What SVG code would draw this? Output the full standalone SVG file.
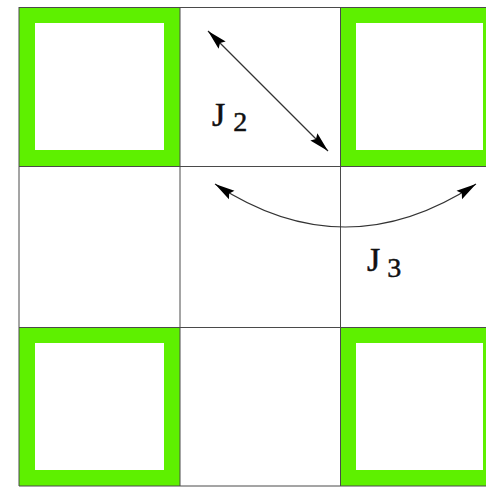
<svg xmlns="http://www.w3.org/2000/svg" width="486" height="487" viewBox="0 0 486 487">
<style>
.sq{fill:none;stroke:#5ef000;stroke-width:16}
.grid{stroke:#4a4a4a;stroke-width:1;fill:none}
.conn{stroke:#333;stroke-width:1.2;fill:none}
.lbl{font-family:"Liberation Serif","Times New Roman",serif;fill:#111;stroke:#111;stroke-width:0.5}
</style>
<defs>
<marker id="ah" markerUnits="userSpaceOnUse" markerWidth="24" markerHeight="14" refX="20" refY="6" orient="auto-start-reverse" viewBox="0 0 24 12">
<path d="M0,1 L20,6 L0,11 L3,6 Z" fill="#000"/>
</marker>
</defs>
<rect width="486" height="487" fill="#fff"/>
<g id="cell-top-left"><rect class="sq" x="27" y="15" width="145" height="143"/></g>
<g id="cell-top-right"><rect class="sq" x="348" y="15" width="143" height="143"/></g>
<g id="cell-bottom-left"><rect class="sq" x="27" y="335" width="145" height="143"/></g>
<g id="cell-bottom-right"><rect class="sq" x="348" y="335" width="143" height="143"/></g>
<g id="grid">
<line class="grid" x1="19" y1="7" x2="19" y2="486"/>
<line class="grid" x1="180" y1="7" x2="180" y2="486"/>
<line class="grid" x1="340.5" y1="7" x2="340.5" y2="486"/>
<line class="grid" x1="19" y1="7.5" x2="486" y2="7.5"/>
<line class="grid" x1="19" y1="166.5" x2="486" y2="166.5"/>
<line class="grid" x1="19" y1="327.5" x2="486" y2="327.5"/>
<line class="grid" x1="19" y1="486" x2="486" y2="486"/>
</g>
<g id="connectors">
<line class="conn" x1="208" y1="31" x2="328" y2="151" marker-start="url(#ah)" marker-end="url(#ah)"/>
<path class="conn" d="M215,184 Q345,270 476,184" marker-start="url(#ah)" marker-end="url(#ah)"/>
</g>
<g id="label-J2"><text class="lbl" x="212" y="126" font-size="34">J<tspan font-size="28" dx="8" dy="5">2</tspan></text></g>
<g id="label-J3"><text class="lbl" x="367" y="271" font-size="34">J<tspan font-size="28" dx="7" dy="6">3</tspan></text></g>
</svg>
